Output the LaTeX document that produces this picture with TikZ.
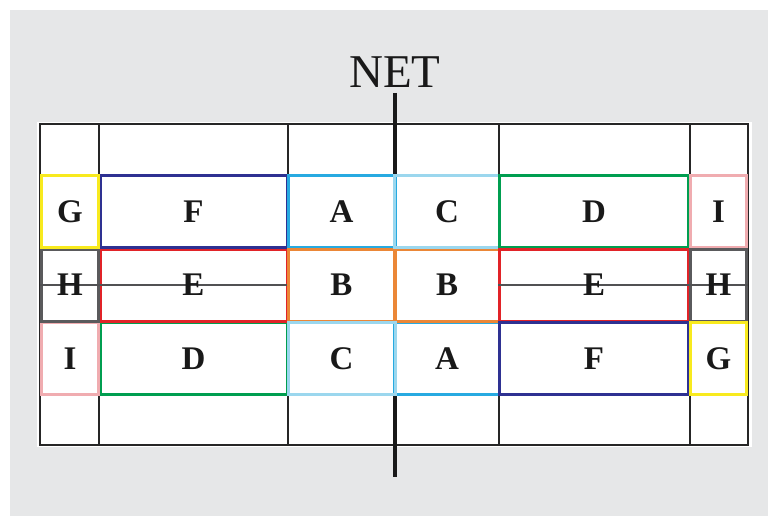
\documentclass[tikz,border=0pt]{standalone}
\usepackage{fontspec}
\setmainfont{Liberation Serif}
\definecolor{bggray}{RGB}{230,231,232}
\definecolor{cyel}{RGB}{248,234,30}
\definecolor{cnavy}{RGB}{46,49,146}
\definecolor{cblue}{RGB}{39,170,225}
\definecolor{clblue}{RGB}{155,215,238}
\definecolor{cgreen}{RGB}{0,158,80}
\definecolor{cpink}{RGB}{240,172,176}
\definecolor{cgray}{RGB}{90,90,92}
\definecolor{cred}{RGB}{225,35,40}
\definecolor{corange}{RGB}{235,135,55}
\tikzset{
  grid line/.style={draw=black!85, line width=1.6pt},
  letter/.style={font=\fontsize{33}{33}\selectfont\bfseries, text=black!90},
  zone/.style={rectangle, inner sep=0pt, line width=3pt, letter},
  narrowzone/.style={zone, minimum width=56pt, minimum height=72pt},
  widezone/.style={zone, minimum width=187pt, minimum height=72pt},
  midzone/.style={zone, minimum width=105pt, minimum height=72pt},
}
\begin{document}
\begin{tikzpicture}[x=1pt,y=-1pt]
\useasboundingbox (0,0) rectangle (768,516);
\fill[white] (0,0) rectangle (768,516);
\fill[bggray] (10,10) rectangle (768,516);
\fill[white] (37,122) rectangle (752,447);
% court grid
\draw[grid line] (40,124) rectangle (748,445);
\foreach \x in {99,288,499,690} \draw[grid line] (\x,124) -- (\x,445);
\draw[grid line] (40,175) -- (748,175);
\draw[grid line] (40,395) -- (748,395);
% net
\coordinate (nettop) at (395,93);
\coordinate (netbot) at (395,477);
\draw[black!90, line width=3.5pt] (nettop) -- (netbot);
\node[font=\fontsize{47}{47}\selectfont, text=black!90] (net) at (395,72) {NET};
% zones: left side
\node[widezone, draw=cgreen] (D1) at (193.5,358.5) {D};
\node[narrowzone, draw=cpink, minimum width=57pt] (I1) at (70,358.5) {I};
\node[widezone, draw=cred] (E1) at (193.5,285) {};
\node[narrowzone, draw=cgray, minimum width=57pt] (H1) at (70,285) {};
\draw[cgray!90!black, line width=1.6pt] (H1.west) -- (E1.east);
\node[letter] (E1t) at (E1.center) {E};
\node[letter] (H1t) at (H1.center) {H};
\node[widezone, draw=cnavy] (F1) at (193.5,211.5) {F};
\node[narrowzone, draw=cyel, minimum width=57pt] (G1) at (70,211.5) {G};
% middle
\node[midzone, draw=cblue, minimum width=107pt] (A1) at (341.5,211.5) {A};
\node[midzone, draw=cblue] (A2) at (447,358.5) {A};
\node[midzone, draw=corange, minimum width=107pt] (B1) at (341.5,285) {B};
\node[midzone, draw=corange] (B2) at (447,285) {B};
\node[midzone, draw=clblue, minimum width=107pt] (C2) at (341.5,358.5) {C};
\node[midzone, draw=clblue] (C1) at (447,211.5) {C};
% right side
\node[widezone, minimum width=189pt, draw=cgreen] (D2) at (594,211.5) {D};
\node[widezone, minimum width=189pt, draw=cred] (E2) at (594,285) {};
\node[widezone, minimum width=189pt, draw=cnavy] (F2) at (594,358.5) {F};
\node[narrowzone, draw=cpink] (I2) at (718.5,211.5) {I};
\node[narrowzone, draw=cgray] (H2) at (718.5,285) {};
\node[narrowzone, draw=cyel] (G2) at (718.5,358.5) {G};
\draw[cgray!90!black, line width=1.6pt] (E2.west) -- (H2.east);
\node[letter] (E2t) at (E2.center) {E};
\node[letter] (H2t) at (H2.center) {H};
\end{tikzpicture}
\end{document}
